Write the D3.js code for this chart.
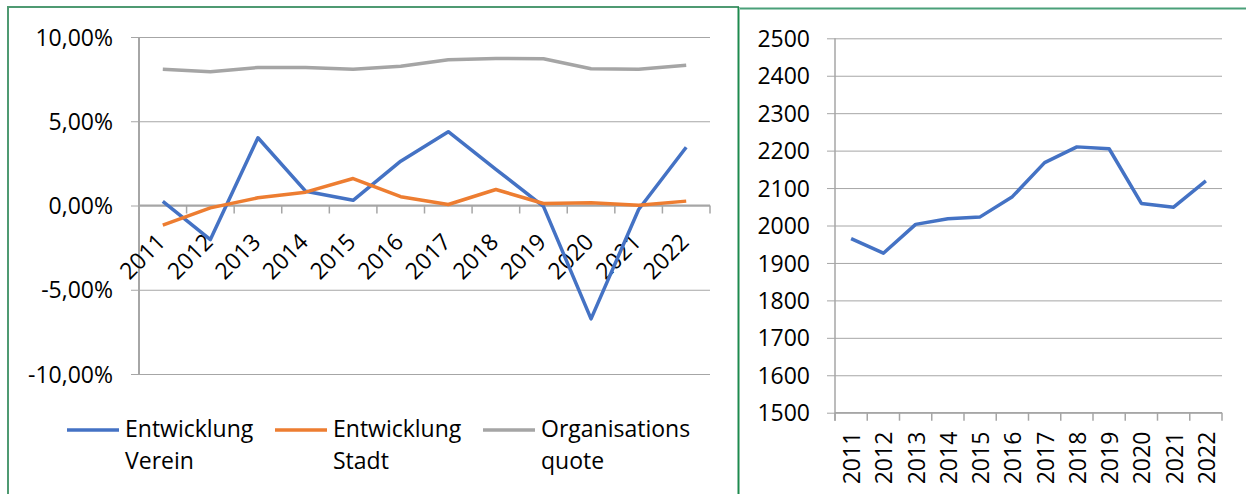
<!DOCTYPE html>
<html><head><meta charset="utf-8">
<script src="https://cdn.jsdelivr.net/npm/d3@7"></script>
<style>
body{margin:0;background:#fff}
svg{display:block}
text{font-family:"Open Sans",sans-serif;fill:#000}
</style>
</head><body>
<svg id="c" width="1246" height="494"></svg>
<script>
const years = ["2011","2012","2013","2014","2015","2016","2017","2018","2019","2020","2021","2022"];
const vereinGrowth = [0.0025,-0.0202,0.0402,0.0085,0.0031,0.0263,0.0438,0.0215,-0.0005,-0.0673,-0.0024,0.0346];
const stadtGrowth = [-0.0117,-0.0014,0.0046,0.0079,0.0160,0.0052,0.0006,0.0095,0.0012,0.0016,0.0002,0.0026];
const orgQuote = [0.0808,0.0794,0.0819,0.0819,0.0809,0.0827,0.0865,0.0873,0.0871,0.0812,0.0808,0.0833];
const members = [1965,1926,2003,2018,2023,2077,2168,2210,2205,2059,2049,2119];
const leftTicks = [-0.10,-0.05,0,0.05,0.10];
const rightTicks = [1500,1600,1700,1800,1900,2000,2100,2200,2300,2400,2500];
const seriesNames = [["Entwicklung","Verein"],["Entwicklung","Stadt"],["Organisations","quote"]];
const seriesColors = ["#4472C4","#ED7D31","#A5A5A5"];

const svg = d3.select("#c");
const gridColor = "#a6a6a6";
const fmtPct = v => d3.format(".2%")(v).replace(".", ",").replace("\u2212", "-");
const FS = "23px";

// ---------- Left chart ----------
const L = {x0:139, x1:710, y0:374, y1:37};
const xL = d3.scaleBand().domain(years).range([L.x0, L.x1]);
const yL = d3.scaleLinear().domain([-0.10, 0.10]).range([L.y0, L.y1]);

const gL = svg.append("g");
const yAxisL = d3.axisLeft(yL).tickValues(leftTicks).tickFormat(fmtPct).tickSizeOuter(0).tickSizeInner(0);
const ya = gL.append("g").attr("transform", `translate(${L.x0},0)`).call(yAxisL);
ya.select(".domain").remove();
ya.selectAll(".tick line").attr("x1", -8).attr("x2", L.x1 - L.x0).attr("stroke", gridColor).attr("stroke-width", 1);
ya.selectAll(".tick text").attr("x", -26).attr("dy", "0.35em").style("font-size", FS).style("font-family", "'Open Sans',sans-serif").attr("fill", "#000");
gL.append("line").attr("x1", L.x0).attr("x2", L.x0).attr("y1", L.y1).attr("y2", L.y0)
  .attr("stroke", "#a6a6a6").attr("stroke-width", 2);
const y0L = yL(0);
gL.append("line").attr("x1", L.x0).attr("x2", L.x1).attr("y1", y0L).attr("y2", y0L)
  .attr("stroke", "#a6a6a6").attr("stroke-width", 2);
const boundsL = years.map(d => xL(d)).concat([L.x1]);
gL.selectAll(".xt").data(boundsL).join("line")
  .attr("x1", d => d).attr("x2", d => d).attr("y1", y0L).attr("y2", y0L + 8)
  .attr("stroke", "#a6a6a6").attr("stroke-width", 1.5);
gL.selectAll(".xl").data(years).join("text")
  .attr("transform", d => `translate(${xL(d) + xL.bandwidth()/2 + 4},${y0L + 38}) rotate(-45)`)
  .attr("text-anchor", "end").style("font-size", FS).text(d => d);

const lineL = d3.line().x((d, i) => xL(years[i]) + xL.bandwidth()/2).y(d => yL(d));
[vereinGrowth, stadtGrowth, orgQuote].forEach((s, k) => {
  gL.append("path").datum(s).attr("d", lineL).attr("fill", "none")
    .attr("stroke", seriesColors[k]).attr("stroke-width", 3.5).attr("stroke-linejoin", "round");
});

const legX = [67, 275, 483];
seriesNames.forEach((nm, k) => {
  gL.append("line").attr("x1", legX[k]).attr("x2", legX[k] + 52).attr("y1", 430).attr("y2", 430)
    .attr("stroke", seriesColors[k]).attr("stroke-width", 3.5);
  const t = gL.append("text").attr("x", legX[k] + 58).attr("y", 437).style("font-size", FS);
  t.append("tspan").attr("x", legX[k] + 58).text(nm[0]);
  t.append("tspan").attr("x", legX[k] + 58).attr("dy", 32).text(nm[1]);
});

// ---------- Right chart ----------
const R = {x0:835, x1:1222, y0:412.7, y1:38.3};
const xR = d3.scaleBand().domain(years).range([R.x0, R.x1]);
const yR = d3.scaleLinear().domain([1500, 2500]).range([R.y0, R.y1]);
const gR = svg.append("g");
const yAxisR = d3.axisLeft(yR).tickValues(rightTicks).tickFormat(d3.format("d")).tickSizeOuter(0).tickSizeInner(0);
const yr = gR.append("g").attr("transform", `translate(${R.x0},0)`).call(yAxisR);
yr.select(".domain").remove();
yr.selectAll(".tick line").attr("x1", -8).attr("x2", R.x1 - R.x0).attr("stroke", gridColor).attr("stroke-width", 1);
yr.selectAll(".tick text").attr("x", -25).attr("dy", "0.35em").style("font-size", FS).style("font-family", "'Open Sans',sans-serif").attr("fill", "#000");
gR.append("line").attr("x1", R.x0).attr("x2", R.x0).attr("y1", R.y1).attr("y2", R.y0 + 8)
  .attr("stroke", "#a6a6a6").attr("stroke-width", 1.5);
gR.append("line").attr("x1", R.x0).attr("x2", R.x1).attr("y1", R.y0).attr("y2", R.y0)
  .attr("stroke", "#a6a6a6").attr("stroke-width", 1.5);
const boundsR = years.map(d => xR(d)).concat([R.x1]);
gR.selectAll(".xt").data(boundsR).join("line")
  .attr("x1", d => d).attr("x2", d => d).attr("y1", R.y0).attr("y2", R.y0 + 8)
  .attr("stroke", "#a6a6a6").attr("stroke-width", 1.5);
gR.selectAll(".xl").data(years).join("text")
  .attr("transform", d => `translate(${xR(d) + xR.bandwidth()/2 + 1},${R.y0 + 19}) rotate(-90)`)
  .attr("text-anchor", "end").attr("dy", "0.35em").style("font-size", FS).text(d => d);
const lineR = d3.line().x((d, i) => xR(years[i]) + xR.bandwidth()/2).y(d => yR(d));
gR.append("path").datum(members).attr("d", lineR).attr("fill", "none")
  .attr("stroke", "#4472C4").attr("stroke-width", 3.5).attr("stroke-linejoin", "round");

// ---------- Borders ----------
svg.append("path").attr("d", "M8,494 V7 H739").attr("fill", "none").attr("stroke", "#4f9a72").attr("stroke-width", 2);
svg.append("line").attr("x1", 738.5).attr("x2", 738.5).attr("y1", 7).attr("y2", 494).attr("stroke", "#1e8a4e").attr("stroke-width", 2);
svg.append("line").attr("x1", 740).attr("x2", 1246).attr("y1", 8.5).attr("y2", 8.5).attr("stroke", "#4aa079").attr("stroke-width", 2);
</script>
</body></html>
